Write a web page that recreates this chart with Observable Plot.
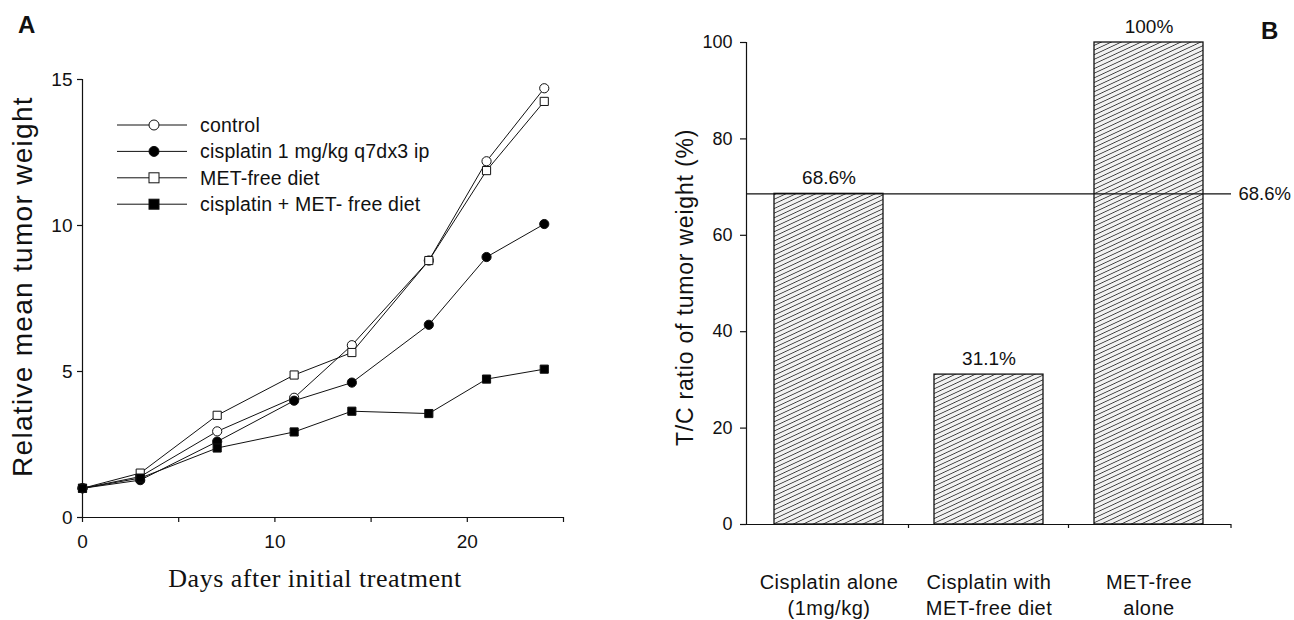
<!DOCTYPE html>
<html>
<head>
<meta charset="utf-8">
<script src="https://cdn.jsdelivr.net/npm/d3@7"></script>
<script src="https://cdn.jsdelivr.net/npm/@observablehq/plot@0.6"></script>
<style>
  body { margin: 0; background: #fff; }
  #root { position: relative; width: 1294px; height: 620px; overflow: hidden; font-family: "Liberation Sans", Arial, sans-serif; color: #111; }
  #panelA { position: absolute; left: 0; top: 0; }
  #panelB { position: absolute; left: 640px; top: 0; }
  .plabel { position: absolute; font-weight: bold; font-size: 24px; line-height: 24px; }
</style>
</head>
<body>
<div id="root">
  <div id="panelA"></div>
  <div id="panelB"></div>
  <div class="plabel" style="left:18px; top:13px;">A</div>
  <div class="plabel" style="left:1261px; top:19px;">B</div>
</div>
<script>
// ---------- Panel A data ----------
const days = [0, 3, 7, 11, 14, 18, 21, 24];
const control = [1.0, 1.4, 2.95, 4.1, 5.9, 8.8, 12.2, 14.7];
const cisplatin = [1.0, 1.28, 2.6, 4.0, 4.62, 6.6, 8.92, 10.05];
const metFree = [1.0, 1.52, 3.5, 4.88, 5.65, 8.8, 11.88, 14.25];
const combo = [1.0, 1.35, 2.38, 2.93, 3.64, 3.56, 4.74, 5.08];
const seriesNames = ["control", "cisplatin 1 mg/kg q7dx3 ip", "MET-free diet", "cisplatin + MET- free diet"];
const xTicksA = [0, 5, 10, 15, 20, 25];
const xTickLabelsA = ["0", "", "10", "", "20", ""];
const yTicksA = [0, 5, 10, 15];
const xTitleA = "Days after initial treatment";
const yTitleA = "Relative mean tumor weight";

// ---------- Panel B data ----------
const groups = ["Cisplatin alone\n(1mg/kg)", "Cisplatin with\nMET-free diet", "MET-free\nalone"];
const ratios = [68.6, 31.1, 100];
const ratioLabels = ["68.6%", "31.1%", "100%"];
const refValue = 68.6;
const refLabel = "68.6%";
const yTicksB = [0, 20, 40, 60, 80, 100];
const yTitleB = "T/C ratio of tumor weight (%)";

// ---------- Panel A ----------
const seriesValues = [control, cisplatin, metFree, combo];
const seriesStyle = [
  {symbol: "circle", fill: "white"},
  {symbol: "circle", fill: "black"},
  {symbol: "square", fill: "white"},
  {symbol: "square", fill: "black"}
];
const seriesRows = seriesValues.map((vals, i) => days.map((d, j) => ({day: d, value: vals[j], series: seriesNames[i]})));
const drawOrder = [0, 2, 1, 3];

const plotA = Plot.plot({
  width: 600,
  height: 620,
  marginLeft: 82,
  marginRight: 37,
  marginTop: 79,
  marginBottom: 103,
  style: {fontFamily: "'Liberation Sans', Arial, sans-serif", background: "transparent", color: "#111", overflow: "visible"},
  x: {domain: [0, 25]},
  y: {domain: [0, 15]},
  marks: [
    Plot.ruleX([0], {stroke: "#111", strokeWidth: 1.2}),
    Plot.ruleY([0], {stroke: "#111", strokeWidth: 1.2}),
    Plot.axisX({ticks: xTicksA, tickFormat: d => xTickLabelsA[xTicksA.indexOf(d)], tickSize: 5, tickPadding: 12, fontSize: 19, label: null, strokeWidth: 1.2}),
    Plot.axisY({ticks: yTicksA, tickSize: 5, tickPadding: 5, fontSize: 19, label: null, strokeWidth: 1.2}),
    ...seriesRows.map(rows => Plot.line(rows, {x: "day", y: "value", stroke: "#111", strokeWidth: 1})),
    ...drawOrder.map(i => Plot.dot(seriesRows[i], {x: "day", y: "value", symbol: seriesStyle[i].symbol, fill: seriesStyle[i].fill, stroke: "#111", strokeWidth: 1, r: 4.6})),
    Plot.text([yTitleA], {text: d => d, frameAnchor: "left", textAnchor: "middle", rotate: -90, dx: -59, dy: -12, fontSize: 28, lineAnchor: "middle"}),
    Plot.text([xTitleA], {text: d => d, frameAnchor: "bottom", dx: -8, dy: 61, fontSize: 26, lineAnchor: "middle", fontFamily: "'Liberation Serif', 'Times New Roman', serif"})
  ]
});
document.getElementById("panelA").appendChild(plotA);

// legend for panel A
{
  const svg = d3.select(plotA);
  const g = svg.append("g").attr("fill", "#111").attr("stroke", "#111");
  seriesNames.forEach((name, i) => {
    const y = 125 + i * 26.4;
    g.append("line").attr("x1", 117).attr("x2", 187).attr("y1", y).attr("y2", y).attr("stroke-width", 1);
    if (seriesStyle[i].symbol === "circle") {
      g.append("circle").attr("cx", 154).attr("cy", y).attr("r", 5).attr("fill", seriesStyle[i].fill).attr("stroke-width", 1);
    } else {
      g.append("rect").attr("x", 149).attr("y", y - 5).attr("width", 10).attr("height", 10).attr("fill", seriesStyle[i].fill).attr("stroke-width", 1);
    }
    g.append("text").attr("x", 200).attr("y", y).attr("dy", "0.35em").attr("stroke", "none")
      .attr("text-anchor", "start").attr("font-size", 19.5).style("letter-spacing", "0.2px").text(name);
  });
  svg.selectAll("text").filter(function() { return this.textContent === yTitleA; }).style("letter-spacing", "1.3px");
  svg.selectAll("text").filter(function() { return this.textContent === xTitleA; }).style("letter-spacing", "0.5px");
}

// ---------- Panel B ----------
const bars = groups.map((g, i) => ({group: g, ratio: ratios[i], label: ratioLabels[i]}));

const plotB = Plot.plot({
  width: 654,
  height: 620,
  marginLeft: 106,
  marginRight: 63,
  marginTop: 42,
  marginBottom: 96,
  style: {fontFamily: "'Liberation Sans', Arial, sans-serif", background: "transparent", color: "#111", overflow: "visible"},
  x: {domain: groups, paddingInner: 0.319, paddingOuter: 0.175},
  y: {domain: [0, 100]},
  marks: [
    Plot.barY(bars, {x: "group", y: "ratio", fill: "url(#hatchB)", stroke: "#111", strokeWidth: 1.3}),
    Plot.ruleY([refValue], {stroke: "#111", strokeWidth: 1.1}),
    Plot.ruleY([0], {stroke: "#111", strokeWidth: 1.2}),
    Plot.frame({anchor: "left", stroke: "#111", strokeWidth: 1.2}),
    Plot.axisY({ticks: yTicksB, tickSize: 6, tickPadding: 8, fontSize: 18, label: null, strokeWidth: 1.2}),
    Plot.axisX({tickSize: 0, tickPadding: 46, fontSize: 20, lineHeight: 1.3, label: null}),
    Plot.text(bars, {x: "group", y: "ratio", text: "label", dy: -16, fontSize: 19, lineAnchor: "middle"}),
    Plot.text([refValue], {y: d => d, text: () => refLabel, frameAnchor: "right", textAnchor: "start", dx: 7, fontSize: 18.5, lineAnchor: "middle"}),
    Plot.text([yTitleB], {text: d => d, frameAnchor: "left", textAnchor: "middle", rotate: -90, dx: -61, dy: 4, fontSize: 23, lineAnchor: "middle"})
  ]
});
document.getElementById("panelB").appendChild(plotB);

{
  const svg = d3.select(plotB);
  const defs = svg.insert("defs", ":first-child");
  const pat = defs.append("pattern").attr("id", "hatchB").attr("patternUnits", "userSpaceOnUse")
    .attr("width", 12).attr("height", 4.2).attr("patternTransform", "rotate(-25)");
  pat.append("rect").attr("width", 12).attr("height", 4.2).attr("fill", "#f2f2f2");
  pat.append("line").attr("x1", 0).attr("x2", 12).attr("y1", 2.1).attr("y2", 2.1).attr("stroke", "#3a3a3a").attr("stroke-width", 0.85);

  // small ticks between categories on the x axis
  const sx = plotB.scale("x");
  const sy = plotB.scale("y");
  const y0 = sy.apply(0);
  const bw = sx.bandwidth, st = sx.step;
  const pos = groups.slice(0, -1).map(g => sx.apply(g) + bw + (st - bw) / 2);
  pos.push(sx.range[1]);
  svg.append("g").selectAll("line").data(pos).join("line")
    .attr("x1", d => d).attr("x2", d => d).attr("y1", y0).attr("y2", y0 + 4)
    .attr("stroke", "#111").attr("stroke-width", 1.2);

  svg.selectAll('g[aria-label="x-axis tick label"] text').style("letter-spacing", "0.5px");
  svg.selectAll("text").filter(function() { return this.textContent === yTitleB; }).style("letter-spacing", "0.8px");
}
</script>
</body>
</html>
